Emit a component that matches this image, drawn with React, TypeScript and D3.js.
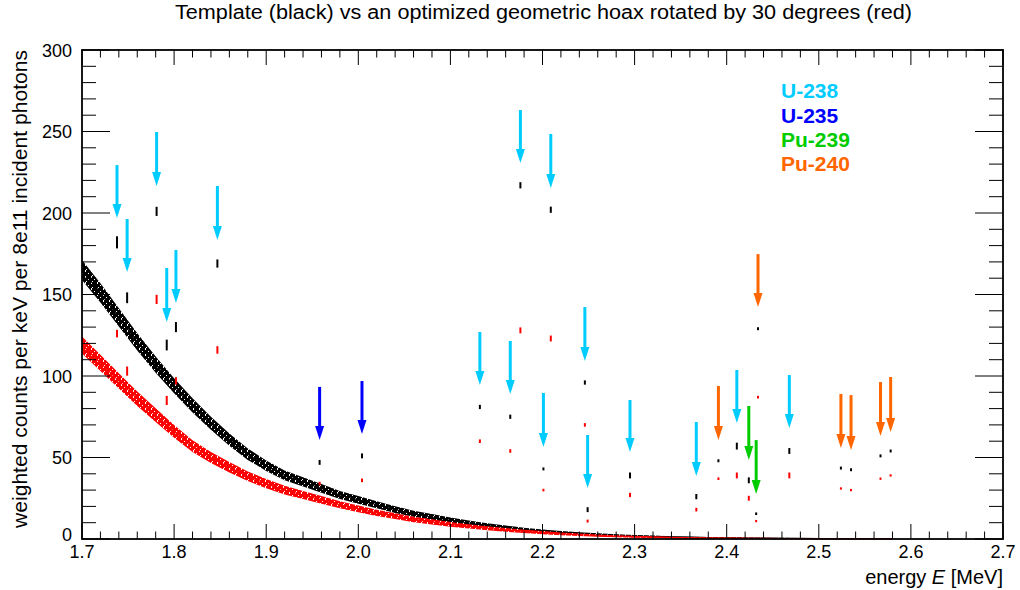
import React from "react";
import * as d3 from "d3";

// ---------------- data ----------------
const continuumEnergy = [
  1.70, 1.72, 1.74, 1.76, 1.78, 1.80, 1.82, 1.84, 1.86, 1.88, 1.90, 1.92, 1.94, 1.96, 1.98,
  2.00, 2.02, 2.04, 2.06, 2.08, 2.10, 2.12, 2.14, 2.16, 2.18, 2.20, 2.22, 2.24, 2.26, 2.28,
  2.30, 2.32, 2.34, 2.36, 2.38, 2.40, 2.42, 2.44, 2.46, 2.48, 2.50, 2.52, 2.54, 2.56, 2.58,
];
const templateContinuum = [
  165, 151, 136, 121, 107, 94, 82, 71, 61, 52, 45, 39, 35, 31, 27,
  24, 21, 18, 15.5, 13.5, 11.5, 9.8, 8.3, 7, 5.8, 4.8, 4, 3.3, 2.7, 2.2,
  1.8, 1.5, 1.2, 1.0, 0.8, 0.7, 0.6, 0.5, 0.4, 0.35, 0.3, 0.25, 0.2, 0.2, 0.15,
];
const hoaxContinuum = [
  119, 108, 97, 86, 76, 66, 57, 50, 44, 38.5, 34, 30, 27, 24, 21,
  18.5, 16, 14, 12, 10.5, 9, 7.7, 6.6, 5.6, 4.7, 3.9, 3.2, 2.6, 2.1, 1.7,
  1.4, 1.1, 0.9, 0.7, 0.6, 0.5, 0.4, 0.35, 0.3, 0.25, 0.2, 0.2, 0.15, 0.15, 0.1,
];

const peakEnergy = [
  1.738, 1.749, 1.781, 1.792, 1.802, 1.847, 2.132, 2.165, 2.176, 2.209, 2.201, 2.246, 2.249, 2.295,
  2.367, 2.411, 2.468, 1.958, 2.004, 2.424, 2.432, 2.434, 2.391, 2.524, 2.535, 2.567, 2.578,
];
const templatePeak = [
  182, 148, 201, 119, 130, 169, 81, 75, 217, 202, 43, 96, 18, 39,
  26, 57, 54, 47, 51, 36, 15.5, 129, 48, 43.5, 42.5, 51, 54,
];
const templatePeakErr = [
  3.4, 3, 2.5, 3, 2.8, 2.2, 1, 1, 1.6, 1.6, 0.6, 1, 1.2, 1.5,
  1.3, 1.8, 1.5, 1.2, 1.2, 1.5, 0.5, 0.6, 0.6, 0.6, 0.6, 0.6, 0.6,
];
const hoaxPeak = [
  126, 103, 147, 85, 97, 116, 60, 54, 128, 123, 30, 70, 11, 27,
  18, 39, 39, 34, 36, 25, 11, 87, 37, 31, 30, 37, 39,
];
const hoaxPeakErr = [
  2, 2.5, 2.5, 2.5, 2, 2, 0.8, 0.8, 1.5, 1.5, 0.5, 0.8, 0.6, 1,
  0.8, 1.5, 1.5, 0.8, 0.8, 1.2, 0.4, 0.5, 0.5, 0.4, 0.4, 0.4, 0.4,
];

// arrows: isotope index, tail value, tip value (same energies as peaks)
const arrowIsotope = [
  0, 0, 0, 0, 0, 0, 0, 0, 0, 0, 0, 0, 0, 0,
  0, 0, 0, 1, 1, 2, 2, 3, 3, 3, 3, 3, 3,
];
const arrowTail = [
  229.4, 196.3, 249.7, 166.3, 177.3, 216.6, 127.0, 121.5, 263.2, 248.5, 89.6, 142.3, 63.8, 85.3,
  71.8, 103.7, 100.6, 93.3, 96.9, 81.6, 60.7, 174.8, 93.9, 89.0, 88.3, 96.3, 99.4,
];
const arrowTip = [
  196.9, 163.8, 216.6, 133.1, 144.8, 183.4, 94.5, 89.0, 230.7, 215.3, 56.4, 109.2, 31.3, 53.4,
  38.7, 71.2, 68.1, 60.7, 64.4, 48.5, 27.6, 142.3, 60.7, 55.8, 54.6, 63.2, 65.6,
];

const isotopeNames = ["U-238", "U-235", "Pu-239", "Pu-240"];
const isotopeColors = ["#00ccff", "#0000ff", "#00cc00", "#ff6600"];

const xTickValues = [1.7, 1.8, 1.9, 2.0, 2.1, 2.2, 2.3, 2.4, 2.5, 2.6, 2.7];
const yTickValues = [0, 50, 100, 150, 200, 250, 300];

const titleText = "Template (black) vs an optimized geometric hoax rotated by 30 degrees (red)";
const yTitleText = "weighted counts per keV per 8e11 incident photons";

// ---------------- layout ----------------
const W = 1020;
const H = 590;
const L = 82;
const R = 1003;
const T = 50;
const B = 539;
const FONT = "'Liberation Sans', Arial, Helvetica, sans-serif";

function Speckle({ id, color }: { id: string; color: string }) {
  return (
    <pattern id={id} x={0} y={0} width={6} height={6} patternUnits="userSpaceOnUse">
      <rect x={0} y={0} width={6} height={6} fill={color} />
      <rect x={1} y={0} width={1} height={2} fill="#fff" />
      <rect x={4} y={3} width={1} height={1} fill="#fff" />
      <rect x={2} y={5} width={1} height={1} fill="#fff" />
    </pattern>
  );
}

export default function App() {
  const x = d3.scaleLinear().domain([1.7, 2.7]).range([L, R]);
  const y = d3.scaleLinear().domain([0, 300]).range([B, T]);

  const band = (vals: number[], k: number) =>
    d3
      .area<number>()
      .x((_, i) => x(continuumEnergy[i]))
      .y0((v) => y(Math.max(0, v - k * Math.sqrt(v))))
      .y1((v) => y(v + k * Math.sqrt(v)))(vals) || "";
  const line = (vals: number[]) =>
    d3
      .line<number>()
      .x((_, i) => x(continuumEnergy[i]))
      .y((v) => y(v))(vals) || "";

  const xMinor = d3.range(1.7, 2.7001, 0.02);
  const yMinor = d3.range(0, 300.001, 10);
  const xMajLen = 15, xMinLen = 7.5, yMajLen = 28, yMinLen = 14;

  return (
    <svg
      width={W}
      height={H}
      style={{ position: "absolute", left: 0, top: 0, background: "#fff" }}
      fontFamily={FONT}
    >
      <defs>
        <Speckle id="spk-black" color="#000" />
        <Speckle id="spk-red" color="#ff0000" />
      </defs>
      <rect x={0} y={0} width={W} height={H} fill="#fff" />
      {/* title */}
      <text x={543.5} y={19} fontSize={20} textAnchor="middle" textLength={737} lengthAdjust="spacingAndGlyphs">
        {titleText}
      </text>

      {/* continuum */}
      <path d={band(templateContinuum, 0.48)} fill="url(#spk-black)" />
      <path d={line(templateContinuum)} fill="none" stroke="#000" strokeWidth={1.2} />
      <path d={band(hoaxContinuum, 0.48)} fill="url(#spk-red)" />
      <path d={line(hoaxContinuum)} fill="none" stroke="#ff0000" strokeWidth={1.2} />

      {/* peaks */}
      {peakEnergy.map((e, i) => (
        <g key={"p" + i}>
          <line
            x1={x(e)}
            x2={x(e)}
            y1={y(templatePeak[i] - templatePeakErr[i]) + 0.5}
            y2={y(templatePeak[i] + templatePeakErr[i]) - 0.5}
            stroke="#000"
            strokeWidth={2}
          />
          <line
            x1={x(e)}
            x2={x(e)}
            y1={y(hoaxPeak[i] - hoaxPeakErr[i]) + 0.5}
            y2={y(hoaxPeak[i] + hoaxPeakErr[i]) - 0.5}
            stroke="#ff0000"
            strokeWidth={2}
          />
        </g>
      ))}

      {/* arrows */}
      {peakEnergy.map((e, i) => {
        const cx = x(e);
        const ty = y(arrowTip[i]);
        const col = isotopeColors[arrowIsotope[i]];
        return (
          <g key={"a" + i}>
            <line x1={cx} x2={cx} y1={y(arrowTail[i])} y2={ty - 11} stroke={col} strokeWidth={3} />
            <polygon points={`${cx},${ty} ${cx - 4.5},${ty - 14} ${cx + 4.5},${ty - 14}`} fill={col} />
          </g>
        );
      })}

      {/* frame */}
      <rect x={L} y={T} width={R - L} height={B - T} fill="none" stroke="#000" strokeWidth={1.8} />

      {/* x ticks (bottom and top) */}
      {xMinor.map((v, i) => {
        const isMaj = Math.abs(Math.round(v * 10) / 10 - v) < 1e-6;
        const len = isMaj ? xMajLen : xMinLen;
        return (
          <g key={"xt" + i}>
            <line x1={x(v)} x2={x(v)} y1={B} y2={B - len} stroke="#000" strokeWidth={1} />
            <line x1={x(v)} x2={x(v)} y1={T} y2={T + len} stroke="#000" strokeWidth={1} />
          </g>
        );
      })}
      {/* y ticks (left and right) */}
      {yMinor.map((v, i) => {
        const isMaj = Math.round(v) % 50 === 0;
        const len = isMaj ? yMajLen : yMinLen;
        return (
          <g key={"yt" + i}>
            <line x1={L} x2={L + len} y1={y(v)} y2={y(v)} stroke="#000" strokeWidth={1} />
            <line x1={R} x2={R - len} y1={y(v)} y2={y(v)} stroke="#000" strokeWidth={1} />
          </g>
        );
      })}

      {/* tick labels */}
      {xTickValues.map((v) => (
        <text key={"xl" + v} x={x(v)} y={558} fontSize={18} textAnchor="middle">
          {v.toFixed(1)}
        </text>
      ))}
      {yTickValues.map((v) => (
        <text key={"yl" + v} x={72} y={y(v) + (v === 0 ? 2 : 6.5)} fontSize={18} textAnchor="end">
          {v}
        </text>
      ))}

      {/* axis titles */}
      <text x={R} y={584} fontSize={20} textAnchor="end">
        energy <tspan fontStyle="italic">E</tspan> [MeV]
      </text>
      <text
        transform={`translate(27, ${T}) rotate(-90)`}
        fontSize={20}
        textAnchor="end"
        textLength={478}
        lengthAdjust="spacingAndGlyphs"
      >
        {yTitleText}
      </text>

      {/* legend */}
      {isotopeNames.map((n, i) => (
        <text key={n} x={781} y={[98, 123, 147, 171][i]} fontSize={21} fontWeight="bold" fill={isotopeColors[i]}>
          {n}
        </text>
      ))}
    </svg>
  );
}
